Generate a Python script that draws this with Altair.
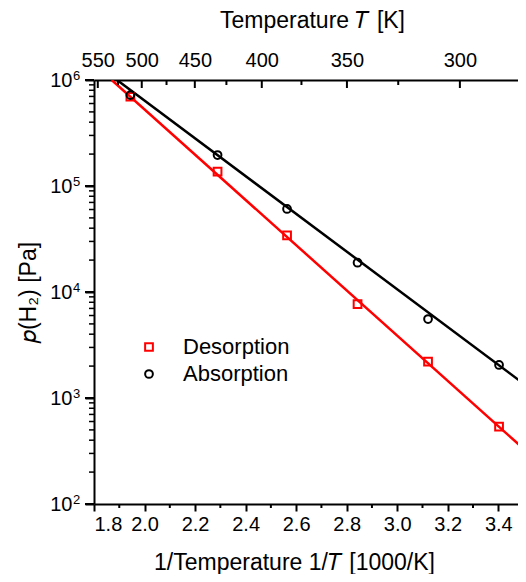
import altair as alt
import pandas as pd

# ---- data ----
inv_T = [1.944, 2.289, 2.564, 2.843, 3.122, 3.403]          # 1000/K
p_des = [6.95e5, 1.37e5, 3.43e4, 7.7e3, 2.2e3, 5.36e2]       # Pa
p_abs = [7.2e5, 1.96e5, 6.07e4, 1.89e4, 5.56e3, 2.05e3]      # Pa

fit_des_x = [1.870, 3.51]
fit_des_y = [1.0e6, 3.16e2]
fit_abs_x = [1.891, 3.51]
fit_abs_y = [1.0e6, 1.31e3]

bottom_ticks = [1.8, 2.0, 2.2, 2.4, 2.6, 2.8, 3.0, 3.2, 3.4]
bottom_minor = [1.9, 2.1, 2.3, 2.5, 2.7, 2.9, 3.1, 3.3]
# top (temperature) axis: labels and where they sit on the 1000/K scale, as read
top_labels = ["550", "500", "450", "400", "350", "300"]
top_major_pos = [1.815, 1.989, 2.199, 2.464, 2.801, 3.248]
top_minor_pos = [1.895, 2.087, 2.324, 2.621, 3.004]
y_major = [1e2, 1e3, 1e4, 1e5, 1e6]
y_exponents = ["2", "3", "4", "5", "6"]
y_minor = [m * 10 ** e for e in [2, 3, 4, 5] for m in range(2, 10)]

series = ["Desorption", "Absorption"]
colors = ["#ff0000", "#000000"]

FONT = "Liberation Sans"
W, H = 424, 424
XMIN, XMAX = 1.8, 3.478

pts = pd.DataFrame({
    "x": inv_T * 2,
    "p": p_des + p_abs,
    "series": ["Desorption"] * len(inv_T) + ["Absorption"] * len(inv_T),
})
fit_des = pd.DataFrame({"x": fit_des_x, "p": fit_des_y})
fit_abs = pd.DataFrame({"x": fit_abs_x, "p": fit_abs_y})
top_major = pd.DataFrame({"x": top_major_pos})
top_minor = pd.DataFrame({"x": top_minor_pos})
bot_minor = pd.DataFrame({"x": bottom_minor})
ymaj_df = pd.DataFrame({"p": y_major, "e": y_exponents})
ymin_df = pd.DataFrame({"p": y_minor})

xscale = alt.Scale(domain=[XMIN, XMAX], nice=False, zero=False)
yscale = alt.Scale(type="log", domain=[1e2, 1e6], nice=False)

top_expr = ""
for pos, lab in zip(top_major_pos, top_labels):
    top_expr += f"abs(datum.value - {pos}) < 0.0005 ? '{lab}' : "
top_expr += "''"

line_des = alt.Chart(fit_des).mark_line(color="#ff0000", strokeWidth=2.5, clip=True).encode(
    x=alt.X("x:Q", scale=xscale, axis=None),
    y=alt.Y("p:Q", scale=yscale, axis=None),
)
line_abs = alt.Chart(fit_abs).mark_line(color="#000000", strokeWidth=2.5, clip=True).encode(
    x=alt.X("x:Q", scale=xscale, axis=None),
    y=alt.Y("p:Q", scale=yscale, axis=None),
)

leg = alt.Legend(title=None, orient="none", legendX=44, legendY=256,
                 labelFontSize=22, labelOffset=23, rowPadding=5,
                 symbolSize=60, symbolStrokeWidth=2, labelFont=FONT,
                 labelColor="black")

points = alt.Chart(pts).mark_point(filled=False, strokeWidth=2, size=60, opacity=1).encode(
    x=alt.X("x:Q", scale=xscale, axis=alt.Axis(
        orient="bottom", values=bottom_ticks, format=".1f", title="1/Temperature 1/𝑇 [1000/K]",
        tickSize=7, tickWidth=2, domainWidth=2, grid=False, labelPadding=3,
        titlePadding=17, titleX=200)),
    y=alt.Y("p:Q", scale=yscale, axis=None),
    color=alt.Color("series:N", scale=alt.Scale(domain=series, range=colors), legend=leg),
    shape=alt.Shape("series:N", scale=alt.Scale(domain=series, range=["square", "circle"]),
                    legend=leg),
)

left_axis = alt.Chart(ymaj_df).mark_rule(color="black", strokeWidth=2).encode(
    y=alt.Y("p:Q", scale=yscale, axis=alt.Axis(
        orient="left", values=y_major, labelExpr="'10'", title="𝑝(H₂) [Pa]", tickSize=9,
        tickWidth=2, domainWidth=2, grid=False, labelPadding=13, titlePadding=9)),
    x=alt.value(0), x2=alt.value(-9),
)
exponents = alt.Chart(ymaj_df).mark_text(
    font=FONT, fontSize=13, align="left", baseline="top", dy=-10, color="black"
).encode(
    y=alt.Y("p:Q", scale=yscale, axis=None), x=alt.value(-21), text="e:N",
)

top_axis = alt.Chart(top_major).mark_rule(color="black", strokeWidth=2).encode(
    x=alt.X("x:Q", scale=xscale, axis=alt.Axis(
        orient="top", values=top_major_pos, labelExpr=top_expr, ticks=False, domainWidth=2,
        grid=False, labelPadding=10, title="Temperature 𝑇 [K]", titlePadding=18, titleX=218)),
    y=alt.value(0), y2=alt.value(8),
)
top_minor_ticks = alt.Chart(top_minor).mark_rule(color="black", strokeWidth=2).encode(
    x=alt.X("x:Q", scale=xscale, axis=None), y=alt.value(0), y2=alt.value(5),
)
bot_minor_ticks = alt.Chart(bot_minor).mark_rule(color="black", strokeWidth=2).encode(
    x=alt.X("x:Q", scale=xscale, axis=None), y=alt.value(H), y2=alt.value(H + 4),
)
left_minor_ticks = alt.Chart(ymin_df).mark_rule(color="black", strokeWidth=1.5).encode(
    y=alt.Y("p:Q", scale=yscale, axis=None), x=alt.value(0), x2=alt.value(-5),
)

chart = alt.layer(
    line_des, line_abs, points, left_axis, exponents, top_axis, top_minor_ticks,
    bot_minor_ticks, left_minor_ticks
).resolve_scale(x="shared", y="shared").resolve_axis(
    x="independent", y="independent"
).properties(
    width=W, height=H, background="white",
    autosize=alt.AutoSizeParams(type="none"),
    padding={"left": 86, "top": 72, "right": 0, "bottom": 70},
).configure_view(strokeWidth=0).configure_axis(
    labelFont=FONT, titleFont=FONT, labelFontSize=20, titleFontSize=23,
    titleFontWeight="normal", labelColor="black", titleColor="black",
    domainColor="black", tickColor="black",
)

chart.save("out.html", embed_options={"renderer": "svg", "actions": False})
